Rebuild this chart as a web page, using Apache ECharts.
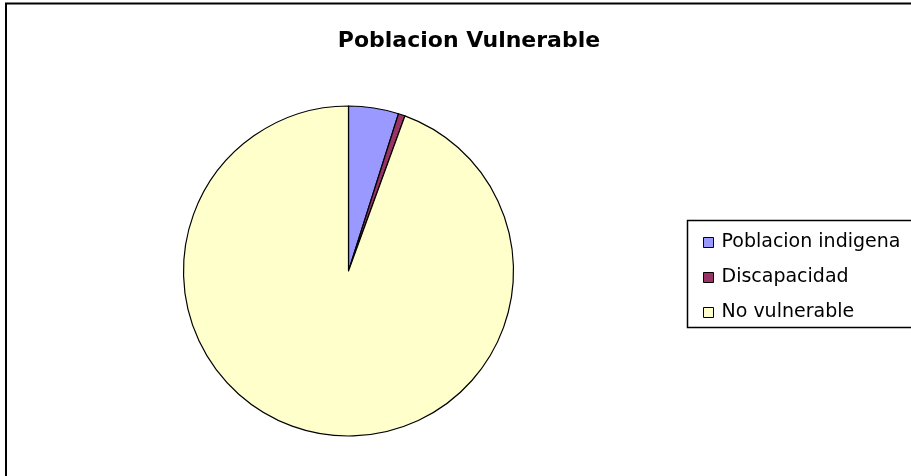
<!DOCTYPE html>
<html>
<head>
<meta charset="utf-8">
<script src="https://cdn.jsdelivr.net/npm/echarts@6/dist/echarts.min.js"></script>
<style>
html,body{margin:0;padding:0;background:#fff;}
#c{width:911px;height:476px;}
</style>
</head>
<body>
<div id="c"></div>
<script>
var categories = ['Poblacion indigena', 'Discapacidad', 'No vulnerable'];
var values = [4.9, 0.65, 94.45];
var colors = ['#9999FF', '#993366', '#FFFFCC'];

var chart = echarts.init(document.getElementById('c'), null, {renderer: 'canvas'});
chart.setOption({
  animation: false,
  backgroundColor: '#ffffff',
  title: {
    text: 'Poblacion Vulnerable',
    left: 464,
    textAlign: 'center',
    top: 25,
    textStyle: {fontFamily: 'DejaVu Sans', fontWeight: 'bold', fontSize: 22, color: '#000'}
  },
  graphic: [
    {type: 'rect', shape: {x: 6, y: 3.5, width: 1000, height: 600}, style: {fill: 'none', stroke: '#000', lineWidth: 2}, z: -1},
    {type: 'rect', shape: {x: 687.5, y: 220.5, width: 300, height: 107}, style: {fill: '#fff', stroke: '#000', lineWidth: 1.5}, z: 0}
  ],
  legend: {
    orient: 'vertical',
    left: 703,
    top: 232,
    padding: 0,
    itemGap: 14,
    itemWidth: 10,
    itemHeight: 10,
    icon: 'rect',
    z: 5,
    itemStyle: {borderColor: '#000', borderWidth: 1},
    textStyle: {fontFamily: 'DejaVu Sans', fontSize: 19, lineHeight: 21, color: '#000', padding: [0, 0, 0, 3]},
    data: categories
  },
  series: [{
    type: 'pie',
    center: [348.5, 271],
    radius: [0, 165],
    startAngle: 90,
    clockwise: true,
    label: {show: false},
    labelLine: {show: false},
    emphasis: {disabled: true},
    itemStyle: {borderColor: '#000', borderWidth: 1.2},
    data: categories.map(function (n, i) {
      return {name: n, value: values[i], itemStyle: {color: colors[i]}};
    })
  }]
});
</script>
</body>
</html>
